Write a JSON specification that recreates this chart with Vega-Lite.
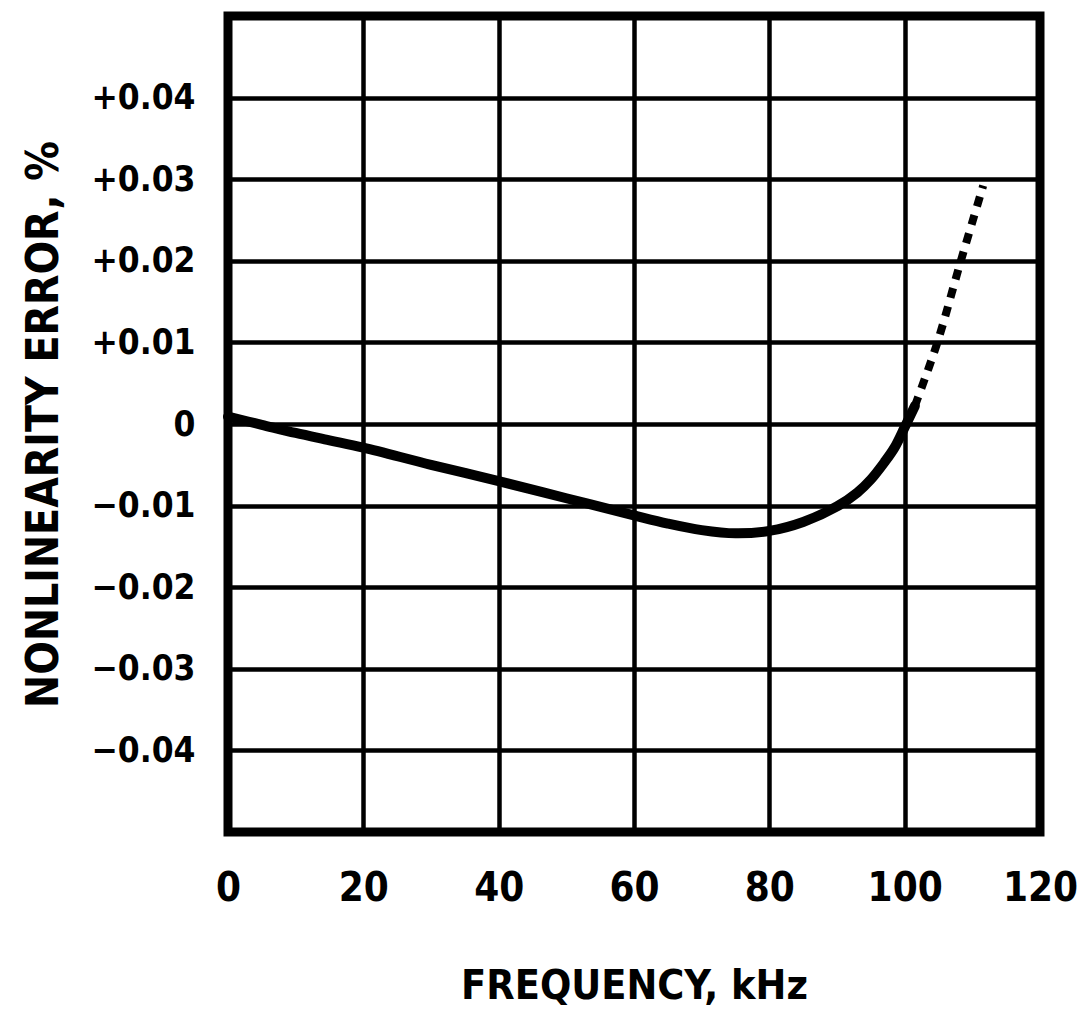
{
  "$schema": "https://vega.github.io/schema/vega-lite/v6.json",
  "width": 812,
  "height": 816,
  "autosize": "none",
  "padding": {"left": 228, "top": 16, "right": 43, "bottom": 195},
  "background": "white",
  "config": {
    "view": {"stroke": "black", "strokeWidth": 9},
    "font": "DejaVu Sans Condensed"
  },
  "data": {
    "values": [
      {"f": 0, "err": 0.0009, "part": "solid"},
      {"f": 5, "err": -0.0001, "part": "solid"},
      {"f": 10, "err": -0.0011, "part": "solid"},
      {"f": 15, "err": -0.0020, "part": "solid"},
      {"f": 20, "err": -0.0029, "part": "solid"},
      {"f": 30, "err": -0.0050, "part": "solid"},
      {"f": 40, "err": -0.0070, "part": "solid"},
      {"f": 50, "err": -0.0091, "part": "solid"},
      {"f": 60, "err": -0.0112, "part": "solid"},
      {"f": 65, "err": -0.0122, "part": "solid"},
      {"f": 70, "err": -0.0130, "part": "solid"},
      {"f": 75, "err": -0.0134, "part": "solid"},
      {"f": 80, "err": -0.0131, "part": "solid"},
      {"f": 85, "err": -0.0120, "part": "solid"},
      {"f": 90, "err": -0.0101, "part": "solid"},
      {"f": 93, "err": -0.0084, "part": "solid"},
      {"f": 95, "err": -0.0068, "part": "solid"},
      {"f": 97, "err": -0.0047, "part": "solid"},
      {"f": 98.5, "err": -0.0029, "part": "solid"},
      {"f": 100, "err": -0.0004, "part": "solid"},
      {"f": 101.5, "err": 0.0022, "part": "solid"},
      {"f": 101.5, "err": 0.0022, "part": "dotted"},
      {"f": 104.8, "err": 0.0099, "part": "dotted"},
      {"f": 108.2, "err": 0.0197, "part": "dotted"},
      {"f": 111.6, "err": 0.0292, "part": "dotted"}
    ]
  },
  "encoding": {
    "x": {
      "field": "f",
      "type": "quantitative",
      "scale": {"domain": [0, 120], "nice": false, "zero": false},
      "axis": {
        "title": "FREQUENCY, kHz",
        "values": [0, 20, 40, 60, 80, 100, 120],
        "gridColor": "black",
        "gridWidth": 4.5,
        "gridOpacity": 1,
        "domain": false,
        "ticks": false,
        "labelFont": "DejaVu Sans Condensed",
        "labelFontWeight": "bold",
        "labelFontSize": 40,
        "labelColor": "black",
        "labelPadding": 36,
        "labelFlush": false,
        "labelBound": false,
        "labelOverlap": false,
        "titleFont": "DejaVu Sans Condensed",
        "titleFontWeight": "bold",
        "titleFontSize": 41,
        "titleColor": "black",
        "titlePadding": 58
      }
    },
    "y": {
      "field": "err",
      "type": "quantitative",
      "scale": {"domain": [-0.05, 0.05], "nice": false, "zero": false},
      "axis": {
        "title": "NONLINEARITY ERROR, %",
        "values": [-0.04, -0.03, -0.02, -0.01, 0, 0.01, 0.02, 0.03, 0.04],
        "labelExpr": "datum.value > 0.0001 ? '+' + format(datum.value, '.2f') : (datum.value < -0.0001 ? '\u2212' + format(-datum.value, '.2f') : '0')",
        "gridColor": "black",
        "gridWidth": 4.5,
        "gridOpacity": 1,
        "domain": false,
        "ticks": false,
        "labelFont": "DejaVu Sans Condensed",
        "labelFontWeight": "bold",
        "labelFontSize": 35,
        "labelColor": "black",
        "labelPadding": 33,
        "labelOverlap": false,
        "labelBound": false,
        "labelFlush": false,
        "titleFont": "DejaVu Sans Condensed",
        "titleFontWeight": "bold",
        "titleFontSize": 44,
        "titleColor": "black",
        "titlePadding": 24
      }
    }
  },
  "layer": [
    {
      "transform": [{"filter": "datum.part === 'solid'"}],
      "mark": {"type": "line", "color": "black", "strokeWidth": 10, "interpolate": "catmull-rom", "strokeCap": "round"}
    },
    {
      "transform": [{"filter": "datum.part === 'dotted'"}],
      "mark": {"type": "line", "color": "black", "strokeWidth": 8, "strokeDash": [10, 9], "strokeCap": "butt", "interpolate": "catmull-rom"}
    }
  ]
}
